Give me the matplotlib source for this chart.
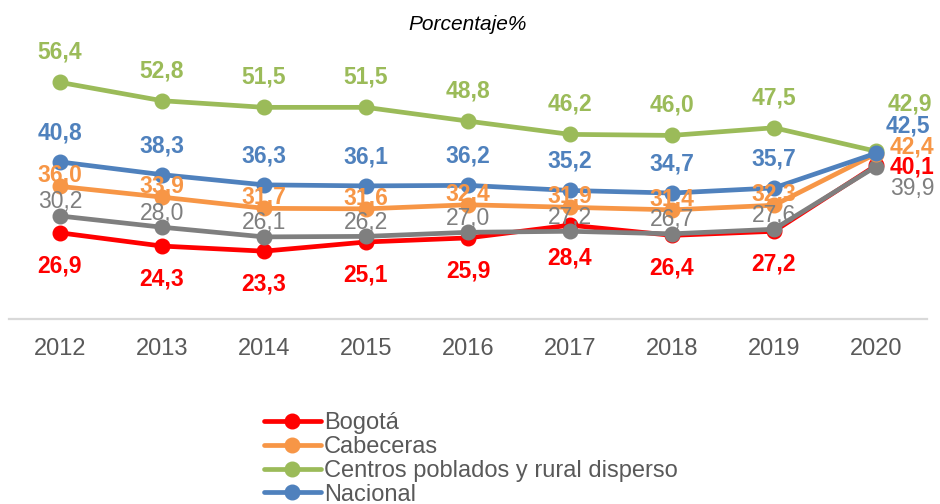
import matplotlib
matplotlib.use("Agg")
import matplotlib.pyplot as plt

years = ["2012", "2013", "2014", "2015", "2016", "2017", "2018", "2019", "2020"]
bogota = [26.9, 24.3, 23.3, 25.1, 25.9, 28.4, 26.4, 27.2, 40.1]
cabeceras = [36.0, 33.9, 31.7, 31.6, 32.4, 31.9, 31.4, 32.3, 42.4]
centros = [56.4, 52.8, 51.5, 51.5, 48.8, 46.2, 46.0, 47.5, 42.9]
nacional = [40.8, 38.3, 36.3, 36.1, 36.2, 35.2, 34.7, 35.7, 42.5]
otro = [30.2, 28.0, 26.1, 26.2, 27.0, 27.2, 26.7, 27.6, 39.9]

plt.rcParams['font.family'] = ['Liberation Sans', 'DejaVu Sans']

fig = plt.figure(figsize=(9.4, 5.04), dpi=100)
ax = fig.add_axes([9/940, 1 - 319/504, (927 - 9)/940, (319 - 33.4)/504])

PX = 72 / 100.0  # pixels -> points

series = [
    # values, label, color, zorder, label dy(px, up positive), bold, last (dx, dy)
    (bogota, "Bogotá", "#FF0000", 2, -33, True, (36, -2)),
    (otro, None, "#7F7F7F", 3, 14, False, (36, -22)),
    (cabeceras, "Cabeceras", "#F79646", 4, 11, True, (36, 7)),
    (centros, "Centros poblados y rural disperso", "#9BBB59", 5, 30, True, (34, 47)),
    (nacional, "Nacional", "#4F81BD", 6, 29, True, (32, 27)),
]

x = list(range(len(years)))
handles = {}
for vals, lab, col, z, dy, bold, last in series:
    ln, = ax.plot(x, vals, color=col, lw=3.4, marker='o', markersize=10.5,
                  zorder=z, solid_capstyle='round', label=lab)
    if lab:
        handles[lab] = ln
    for i, v in enumerate(vals):
        txt = f"{v:.1f}".replace('.', ',')
        if i == len(vals) - 1:
            off = (last[0] * PX, last[1] * PX)
        else:
            off = (0, dy * PX)
        ax.annotate(txt, (i, v), xytext=off, textcoords='offset points',
                    ha='center', va='center', fontsize=16.5,
                    fontweight='bold' if bold else 'normal', color=col,
                    zorder=10)

ax.set_xlim(-0.5, len(years) - 0.5)
ax.set_ylim(10, 66)
ax.set_xticks(x)
ax.set_xticklabels(years)
ax.set_yticks([])
for s in ['top', 'right', 'left']:
    ax.spines[s].set_visible(False)
ax.spines['bottom'].set_color('#D9D9D9')
ax.spines['bottom'].set_linewidth(1.6)
ax.tick_params(axis='x', length=0, pad=14, labelsize=17, labelcolor='#595959')
ax.patch.set_alpha(0)

fig.text(468/940, 1 - 25/504, "Porcentaje%", ha='center', va='center',
         fontsize=15, style='italic', color='#000000')

order = ["Bogotá", "Cabeceras", "Centros poblados y rural disperso", "Nacional"]
leg = fig.legend([handles[k] for k in order], order, loc='upper left',
                 bbox_to_anchor=(264/940, 1 - 412/504), frameon=False,
                 fontsize=17, labelcolor='#595959', handlelength=2.4,
                 handletextpad=0.15, labelspacing=0.08, borderpad=0,
                 borderaxespad=0)

fig.savefig("out.png", dpi=100)
